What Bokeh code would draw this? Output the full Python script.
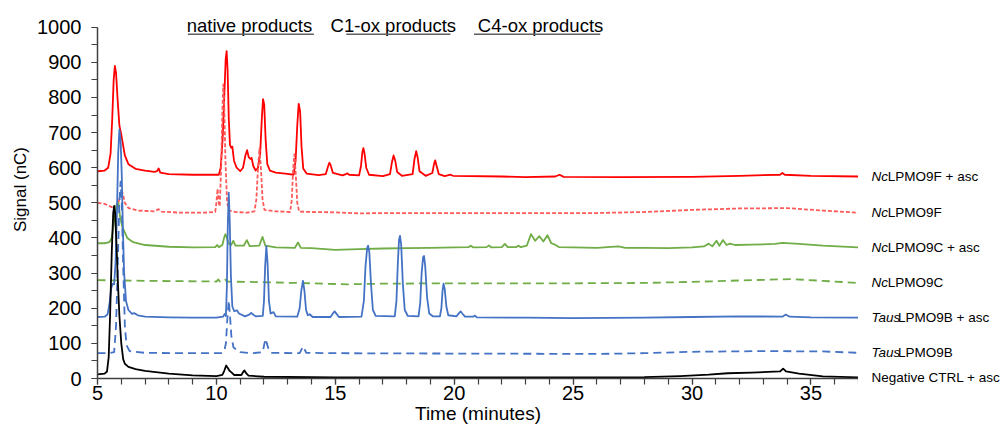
from bokeh.plotting import figure
from bokeh.layouts import row
from bokeh.models import Range1d, SingleIntervalTicker, ColumnDataSource
from bokeh.embed import file_html
from bokeh.resources import INLINE
from bokeh.core.properties import value

# ---------------- data (time in minutes, signal in nC) ----------------
nc9f_asc_t = [5.0, 5.3, 5.45, 5.55, 5.62, 5.68, 5.73, 5.78, 5.85, 5.92, 6.0, 6.06, 6.15, 6.3, 6.6, 7.0, 7.4,
              7.5, 7.57, 7.64, 8.0, 9.0, 10.1, 10.18, 10.26, 10.33, 10.39, 10.43, 10.47, 10.52, 10.57, 10.62,
              10.67, 10.74, 10.85, 11.0, 11.12, 11.22, 11.29, 11.36, 11.43, 11.48, 11.55, 11.65, 11.75, 11.84,
              11.91, 11.96, 12.01, 12.07, 12.14, 12.25, 12.5, 12.9, 13.25, 13.33, 13.4, 13.46, 13.52, 13.58,
              13.65, 13.8, 14.3, 14.6, 14.7, 14.75, 14.8, 14.9, 15.3, 15.45, 15.5, 15.58, 16.0, 16.08, 16.14,
              16.18, 16.23, 16.3, 16.42, 17.0, 17.3, 17.38, 17.45, 17.52, 17.6, 17.8, 18.25, 18.33, 18.4,
              18.46, 18.54, 18.8, 19.08, 19.15, 19.2, 19.26, 19.35, 19.6, 19.85, 19.95, 22.0, 23.0, 24.25,
              24.43, 24.6, 27.0, 30.0, 32.0, 33.7, 33.8, 33.9, 35.0, 37.0]
nc9f_asc_y = [590, 592, 600, 640, 740, 850, 890, 870, 790, 720, 695, 670, 635, 610, 597, 592, 588,
              590, 598, 586, 582, 580, 580, 600, 680, 800, 910, 932, 880, 740, 665, 657,
              660, 620, 600, 590, 600, 635, 650, 630, 625, 628, 605, 592, 600, 640,
              740, 795, 780, 680, 610, 592, 586, 583, 580, 620, 720, 782, 760, 660,
              598, 583, 579, 582, 605, 614, 608, 585, 578, 582, 584, 580, 578, 605, 645,
              656, 640, 600, 580, 576, 582, 615, 635, 620, 588, 577, 582, 625, 647,
              630, 590, 577, 585, 610, 621, 605, 582, 576, 580, 577, 575, 573, 575,
              580, 574, 573, 574, 577, 580, 585, 580, 577, 575]

nc9f_t = [5.0, 5.3, 5.6, 5.8, 5.9, 5.97, 6.02, 6.07, 6.15, 6.3, 6.7, 7.4, 7.57, 7.7, 8.5, 9.5, 9.95, 10.0,
          10.05, 10.1, 10.14, 10.2, 10.25, 10.29, 10.33, 10.38, 10.45, 10.55, 10.8, 11.3, 11.6, 11.68, 11.75,
          11.81, 11.87, 11.94, 12.02, 12.5, 13.1, 13.17, 13.23, 13.28, 13.33, 13.4, 13.48, 14.0, 15.0, 16.0,
          17.0, 20.0, 26.0, 28.0, 30.0, 32.0, 34.0, 35.5, 37.0]
nc9f_y = [500, 497, 488, 490, 505, 528, 535, 525, 500, 485, 478, 476, 482, 475, 472, 472, 474, 500,
          540, 500, 490, 600, 760, 837, 780, 620, 500, 478, 474, 472, 476, 510, 600,
          655, 600, 510, 480, 476, 474, 510, 600, 638, 590, 500, 475, 474, 473, 470,
          471, 471, 471, 474, 480, 484, 485, 478, 472]

nc9c_asc_t = [5.0, 5.3, 5.5, 5.6, 5.7, 5.8, 5.88, 5.95, 6.05, 6.12, 6.25, 6.5, 7.0, 8.0, 9.0, 9.95, 10.03,
              10.1, 10.25, 10.33, 10.38, 10.44, 10.5, 10.62, 10.71, 10.8, 11.15, 11.28, 11.4, 11.8, 11.94,
              12.06, 12.5, 13.3, 13.43, 13.55, 14.0, 15.0, 16.0, 17.0, 18.0, 19.0, 20.0, 20.6, 20.7, 20.8,
              21.36, 21.46, 21.56, 22.0, 22.13, 22.25, 22.6, 22.7, 22.8, 23.05, 23.23, 23.4, 23.58, 23.75,
              23.92, 24.08, 24.24, 24.4, 25.0, 26.0, 26.9, 27.2, 28.0, 29.0, 30.0, 30.5, 30.7, 30.85, 31.03,
              31.15, 31.3, 31.45, 31.6, 31.8, 32.5, 33.5, 33.8, 34.5, 35.5, 37.0]
nc9c_asc_y = [385, 385, 388, 400, 450, 495, 500, 460, 430, 420, 400, 388, 380, 375, 373, 374, 380,
              374, 380, 402, 411, 400, 385, 380, 392, 378, 378, 394, 377, 378, 403,
              378, 373, 372, 387, 372, 371, 366, 368, 370, 371, 372, 373, 374, 378, 373,
              374, 379, 373, 374, 383, 374, 374, 378, 374, 378, 411, 392, 405, 390,
              408, 385, 381, 374, 373, 372, 376, 372, 372, 371, 373, 376, 384, 376, 392,
              378, 394, 380, 384, 380, 381, 383, 386, 383, 378, 373]

nc9c_t = [5.0, 7.0, 10.0, 10.08, 10.15, 10.35, 10.45, 12.0, 14.0, 15.5, 17.0, 20.0, 25.0, 28.0, 30.0,
          32.0, 34.2, 35.5, 37.0]
nc9c_y = [280, 278, 276, 282, 276, 283, 276, 274, 271, 268, 270, 271, 271, 272, 275,
          279, 283, 278, 272]

taus9b_asc_t = [5.0, 5.3, 5.42, 5.5, 5.57, 5.63, 5.7, 5.76, 5.82, 5.87, 5.92, 5.97, 6.02, 6.07, 6.12, 6.2,
                6.3, 6.45, 6.54, 6.7, 7.0, 8.0, 9.0, 10.0, 10.28, 10.35, 10.4, 10.44, 10.48, 10.52, 10.56,
                10.61, 10.67, 10.75, 10.86, 10.95, 11.2, 11.38, 11.46, 11.54, 11.65, 11.95, 12.0, 12.05,
                12.1, 12.15, 12.21, 12.28, 12.4, 12.5, 13.4, 13.5, 13.57, 13.64, 13.7, 13.77, 13.84, 13.92,
                14.05, 14.8, 14.92, 14.97, 15.03, 15.15, 16.1, 16.2, 16.27, 16.34, 16.38, 16.43, 16.5,
                16.58, 16.7, 17.5, 17.57, 17.63, 17.68, 17.72, 17.77, 17.84, 17.92, 18.05, 18.5, 18.57,
                18.63, 18.69, 18.73, 18.78, 18.86, 18.95, 19.1, 19.4, 19.46, 19.51, 19.55, 19.6, 19.67,
                19.75, 20.1, 20.2, 20.27, 20.34, 20.45, 20.8, 20.87, 20.95, 23.0, 25.0, 28.0, 30.0, 32.0,
                33.8, 33.94, 34.1, 35.0, 37.0]
taus9b_asc_y = [175, 176, 182, 210, 255, 269, 268, 330, 480, 640, 709, 680, 580, 420, 300, 220,
                195, 184, 186, 180, 176, 174, 173, 173, 176, 184, 178, 260, 440, 529, 450,
                290, 205, 192, 194, 185, 177, 182, 187, 182, 177, 178, 220, 320,
                377, 330, 220, 185, 189, 177, 176, 200, 250, 278, 250, 195, 180, 183,
                175, 175, 187, 191, 186, 175, 176, 220, 320, 372, 378, 360, 270,
                195, 178, 177, 220, 330, 395, 406, 380, 270, 195, 178, 177, 215,
                300, 345, 349, 320, 230, 185, 177, 177, 200, 250, 270, 255, 205,
                180, 177, 186, 191, 185, 176, 176, 179, 174, 173, 172, 173, 175, 177,
                176, 182, 176, 174, 173]

taus9b_t = [5.0, 5.5, 5.7, 5.78, 5.85, 5.92, 5.97, 6.02, 6.08, 6.15, 6.22, 6.35, 7.0, 9.0, 10.2, 10.33,
            10.4, 10.46, 10.52, 10.57, 10.63, 10.72, 10.85, 11.0, 11.5, 11.95, 12.02, 12.07, 12.12, 12.2,
            12.3, 13.5, 13.6, 13.65, 13.7, 13.78, 15.0, 20.0, 26.0, 28.0, 30.0, 33.0, 35.5, 37.0]
taus9b_y = [72, 72, 75, 150, 320, 500, 560, 500, 320, 150, 95, 78, 73, 72, 72, 78,
            100, 170, 222, 180, 120, 88, 82, 75, 72, 75, 100, 113, 100, 82,
            73, 72, 85, 91, 84, 73, 72, 71, 70, 72, 76, 78, 77, 73]

neg_t = [5.0, 5.3, 5.4, 5.47, 5.53, 5.6, 5.66, 5.7, 5.74, 5.8, 5.86, 5.92, 6.0, 6.08, 6.15, 6.3, 6.6, 7.0,
         8.0, 9.0, 10.0, 10.25, 10.33, 10.41, 10.48, 10.55, 10.62, 10.75, 11.05, 11.12, 11.18, 11.25,
         11.35, 12.0, 15.0, 20.0, 25.0, 28.0, 29.5, 30.7, 31.5, 32.5, 33.7, 33.83, 33.95, 34.5, 35.5, 37.0]
neg_y = [12, 14, 20, 60, 180, 360, 470, 491, 470, 380, 270, 180, 100, 55, 42, 33, 27, 22,
         14, 9, 7, 10, 22, 37, 30, 22, 18, 10, 10, 18, 23, 15,
         8, 5, 3, 3, 3, 4, 7, 11, 15, 17, 20, 28, 20, 14, 6, 3]

label_prefix = ["Nc", "Nc", "Nc", "Nc", "Taus", "Taus", ""]
label_rest = ["LPMO9F + asc", "LPMO9F", "LPMO9C + asc", "LPMO9C", "LPMO9B + asc", "LPMO9B",
              "Negative CTRL + asc"]

region_names = ["native products", "C1-ox products", "C4-ox products"]
region_start = [8.8, 15.46, 20.83]
region_end = [14.1, 19.84, 26.14]
region_text_center = [11.39, 17.44, 23.63]

# ---------------- layout constants ----------------
FONT = "Liberation Sans"
AX = "#404040"
PX_PER_MIN = 23.73
PX_PER_NC = 0.3513
MAIN_W, SIDE_W, H = 858, 145, 432
BOTTOM = 54

# ---------------- main figure ----------------
p = figure(width=MAIN_W, height=H, output_backend="svg", toolbar_location=None,
           x_range=Range1d(5, 37), y_range=Range1d(0, 1076),
           min_border_left=97, min_border_right=0, min_border_top=0, min_border_bottom=BOTTOM)
p.frame_align = False
p.xgrid.visible = False
p.ygrid.visible = False
p.outline_line_color = None
p.background_fill_color = "white"
p.border_fill_color = "white"

xa = p.xaxis[0]
xa.ticker = SingleIntervalTicker(interval=5, num_minor_ticks=5)
xa.axis_label = "Time (minutes)"
ya = p.yaxis[0]
ya.ticker = SingleIntervalTicker(interval=100, num_minor_ticks=2)
ya.bounds = (0, 1000)
ya.axis_label = "Signal (nC)"
for ax in (xa, ya):
    ax.axis_line_color = AX
    ax.axis_line_width = 1.5
    ax.major_tick_line_color = AX
    ax.minor_tick_line_color = AX
    ax.major_tick_line_width = 1.2
    ax.minor_tick_line_width = 1.2
    ax.major_tick_in = 0
    ax.major_tick_out = 6
    ax.minor_tick_in = 0
    ax.minor_tick_out = 6
    ax.major_label_text_font = FONT
    ax.major_label_text_font_size = "20px"
    ax.major_label_text_color = "black"
    ax.axis_label_text_font = FONT
    ax.axis_label_text_font_style = "normal"
    ax.axis_label_text_color = "black"
xa.axis_label_text_font_size = "19px"
ya.axis_label_text_font_size = "17px"
xa.major_label_standoff = 1
xa.axis_label_standoff = 0
ya.major_label_standoff = 10
ya.axis_label_standoff = 4

LW = 1.8
series = [
    (nc9f_asc_t, nc9f_asc_y, "#FF0000", "solid"),
    (nc9f_t, nc9f_y, "#FF5A5A", "4 2"),
    (nc9c_asc_t, nc9c_asc_y, "#70AD47", "solid"),
    (nc9c_t, nc9c_y, "#70AD47", "8 5"),
    (taus9b_asc_t, taus9b_asc_y, "#4472C4", "solid"),
    (taus9b_t, taus9b_y, "#4472C4", "8 5"),
    (neg_t, neg_y, "#000000", "solid"),
]
end_vals = []
for t, y, c, d in series:
    p.line(t, y, line_color=c, line_width=LW, line_dash=d, line_join="round")
    end_vals.append(y[-1])

# region annotations
reg_src = ColumnDataSource(dict(xc=region_text_center, x0=region_start, x1=region_end,
                                name=region_names, yt=[1005] * 3, yl=[980] * 3))
p.text(x="xc", y="yt", text="name", source=reg_src, text_font=value(FONT), text_font_size="18.5px",
       text_align="center", text_baseline="middle", text_color="black")
p.segment(x0="x0", y0="yl", x1="x1", y1="yl", source=reg_src, line_color="#606060", line_width=1.5)

# ---------------- side panel with trace labels (same vertical scale, taller frame) ----------------
y_low = -BOTTOM / PX_PER_NC
side = figure(width=SIDE_W, height=H, output_backend="svg", toolbar_location=None,
              x_range=Range1d(37, 37 + SIDE_W / PX_PER_MIN), y_range=Range1d(y_low, 1076),
              x_axis_location=None, y_axis_location=None, min_border=0)
side.frame_align = False
side.xgrid.visible = False
side.ygrid.visible = False
side.outline_line_color = None
side.background_fill_color = "white"
side.border_fill_color = "white"

LX = 37.55
offs = [0 if not s else (16.2 if s == "Nc" else 26.5) for s in label_prefix]
lab_src = ColumnDataSource(dict(x=[LX] * len(label_rest), y=end_vals, pre=label_prefix,
                                rest=label_rest, off=offs))
side.text(x="x", y="y", text="pre", source=lab_src, text_font=value(FONT), text_font_size="13.5px",
          text_font_style="italic", text_baseline="middle", text_align="left", text_color="black")
side.text(x="x", y="y", text="rest", x_offset="off", source=lab_src, text_font=value(FONT),
          text_font_size="13.5px", text_baseline="middle", text_align="left", text_color="black")

layout = row(p, side, spacing=0)
open("out.html", "w").write(file_html(layout, INLINE))
